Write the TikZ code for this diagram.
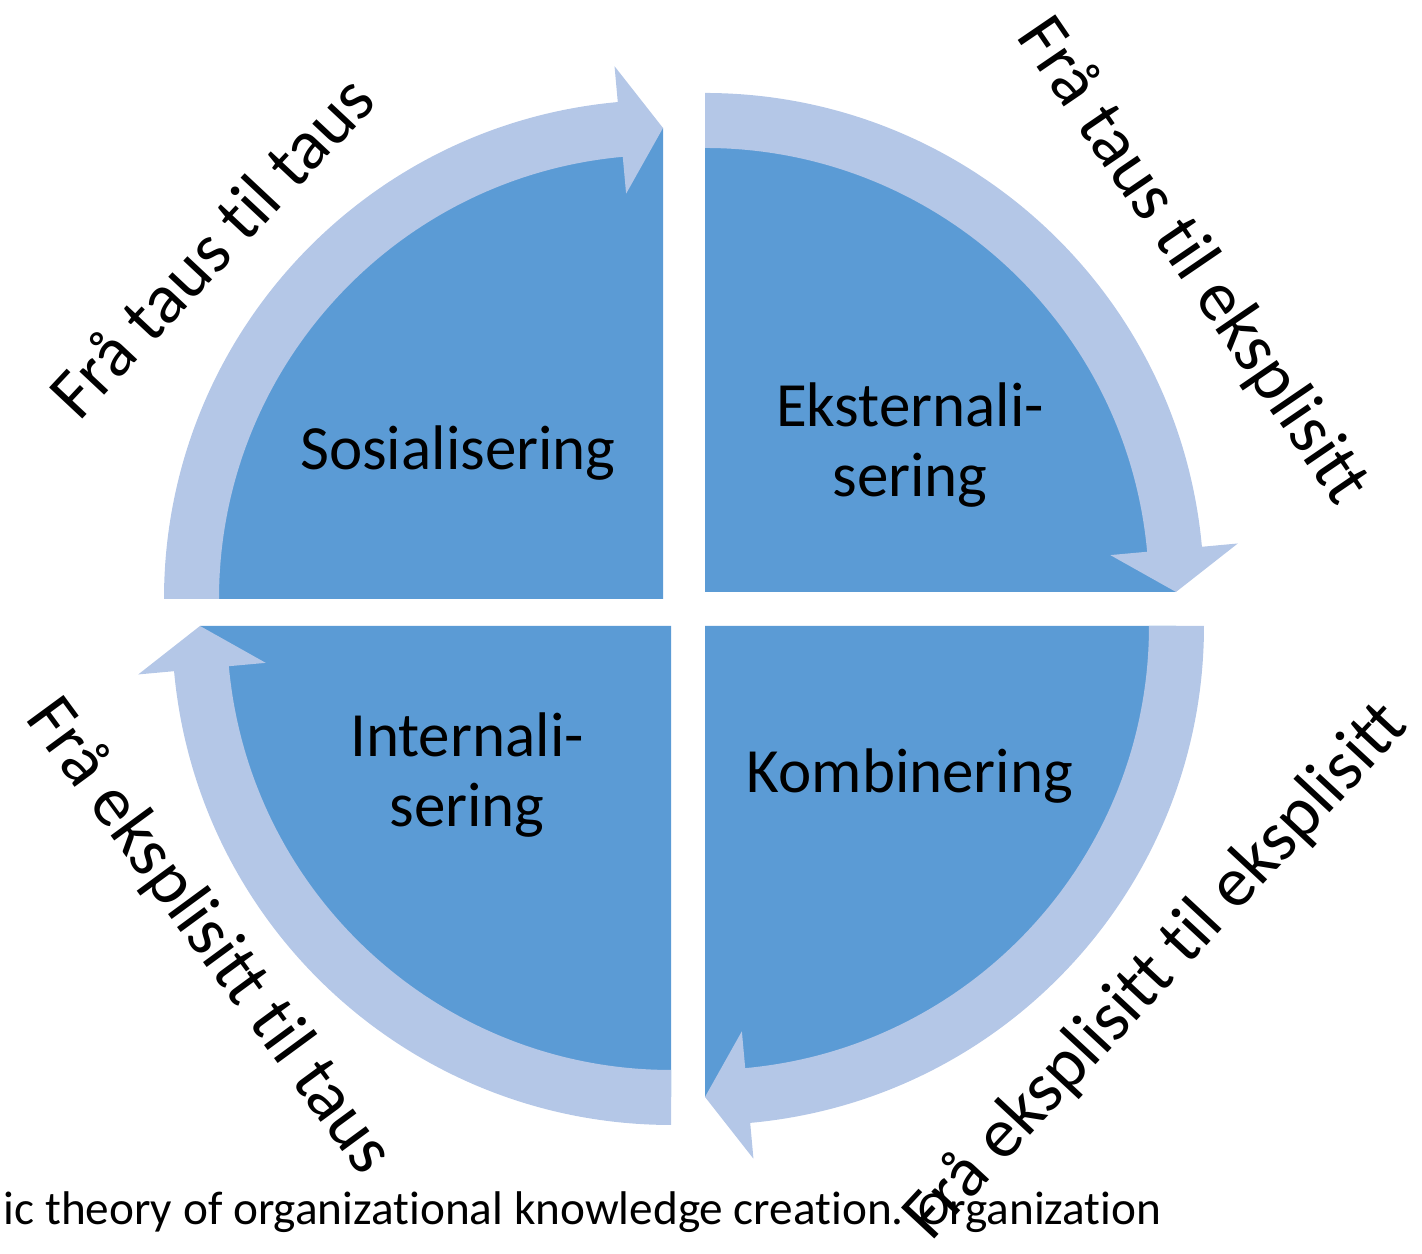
\documentclass[tikz,border=0pt]{standalone}
\usepackage{fontspec}
\setmainfont[Ligatures=NoCommon]{Carlito}
\definecolor{myBlue}{RGB}{91,155,213}
\definecolor{myLightBlue}{RGB}{180,199,231}

\begin{document}
\begin{tikzpicture}[x=0.254pt, y=0.254pt,
    quarter/.style={fill=myBlue},
    band/.style={fill=myLightBlue},
    phase/.style={font=\fontsize{16}{17.8}\selectfont, align=center, inner sep=0pt},
    flow/.style={font=\fontsize{18}{21.6}\selectfont, inner sep=0pt, anchor=base}]
  \useasboundingbox (0,0) rectangle (1422,1254);

  % the four quarter discs, corner / start angle / end angle
  \foreach \cx/\cy/\s/\e in {663/655/180/90, 705/662/90/0, 705/628/0/-90, 671/628/270/180}
    \fill[quarter, shift={(\cx,\cy)}] (0,0) -- (\s:471) arc[start angle=\s, end angle=\e, radius=471] -- cycle;

  % curved arrows round them, clockwise
  \foreach \cx/\cy/\s/\e in {663/655/180/90, 705/662/90/0, 705/628/0/-90, 671/628/270/180}
    \fill[band, shift={(\cx,\cy)}] (\s:444) arc[start angle=\s, end angle=\e+5.2, radius=444]
      -- (\e+5.2:407) -- (\e:471) -- (\e+5.2:535) -- (\e+5.2:499)
      arc[start angle=\e+5.2, end angle=\s, radius=499] -- cycle;

  \draw (458,784) node[phase, anchor=base] (sos) {Sosialisering};
  \draw (910,757) node[phase, anchor=base] (eks) {Eksternali-\\sering};
  \draw (467,427) node[phase, anchor=base] (int) {Internali-\\sering};
  \draw (910,461) node[phase, anchor=base] (komb) {Kombinering};

  \draw (229,991.5) node[flow, rotate=46.9] (tt) {Frå taus til taus};
  \draw (1176.5,981.5) node[flow, rotate=-55.7] (te) {Frå taus til eksplisitt};
  \draw (193.5,305.5) node[flow, rotate=-53.7] (et) {Frå eksplisitt til taus};
  \draw (1170.7,269.5) node[flow, rotate=47.1] (ee) {Frå eksplisitt til eksplisitt};

  \draw (3,29) node[anchor=base west, inner sep=0pt, font=\fontsize{12}{14}\selectfont] (cap)
    {ic theory of organizational knowledge creation. Organization};
\end{tikzpicture}
\end{document}
